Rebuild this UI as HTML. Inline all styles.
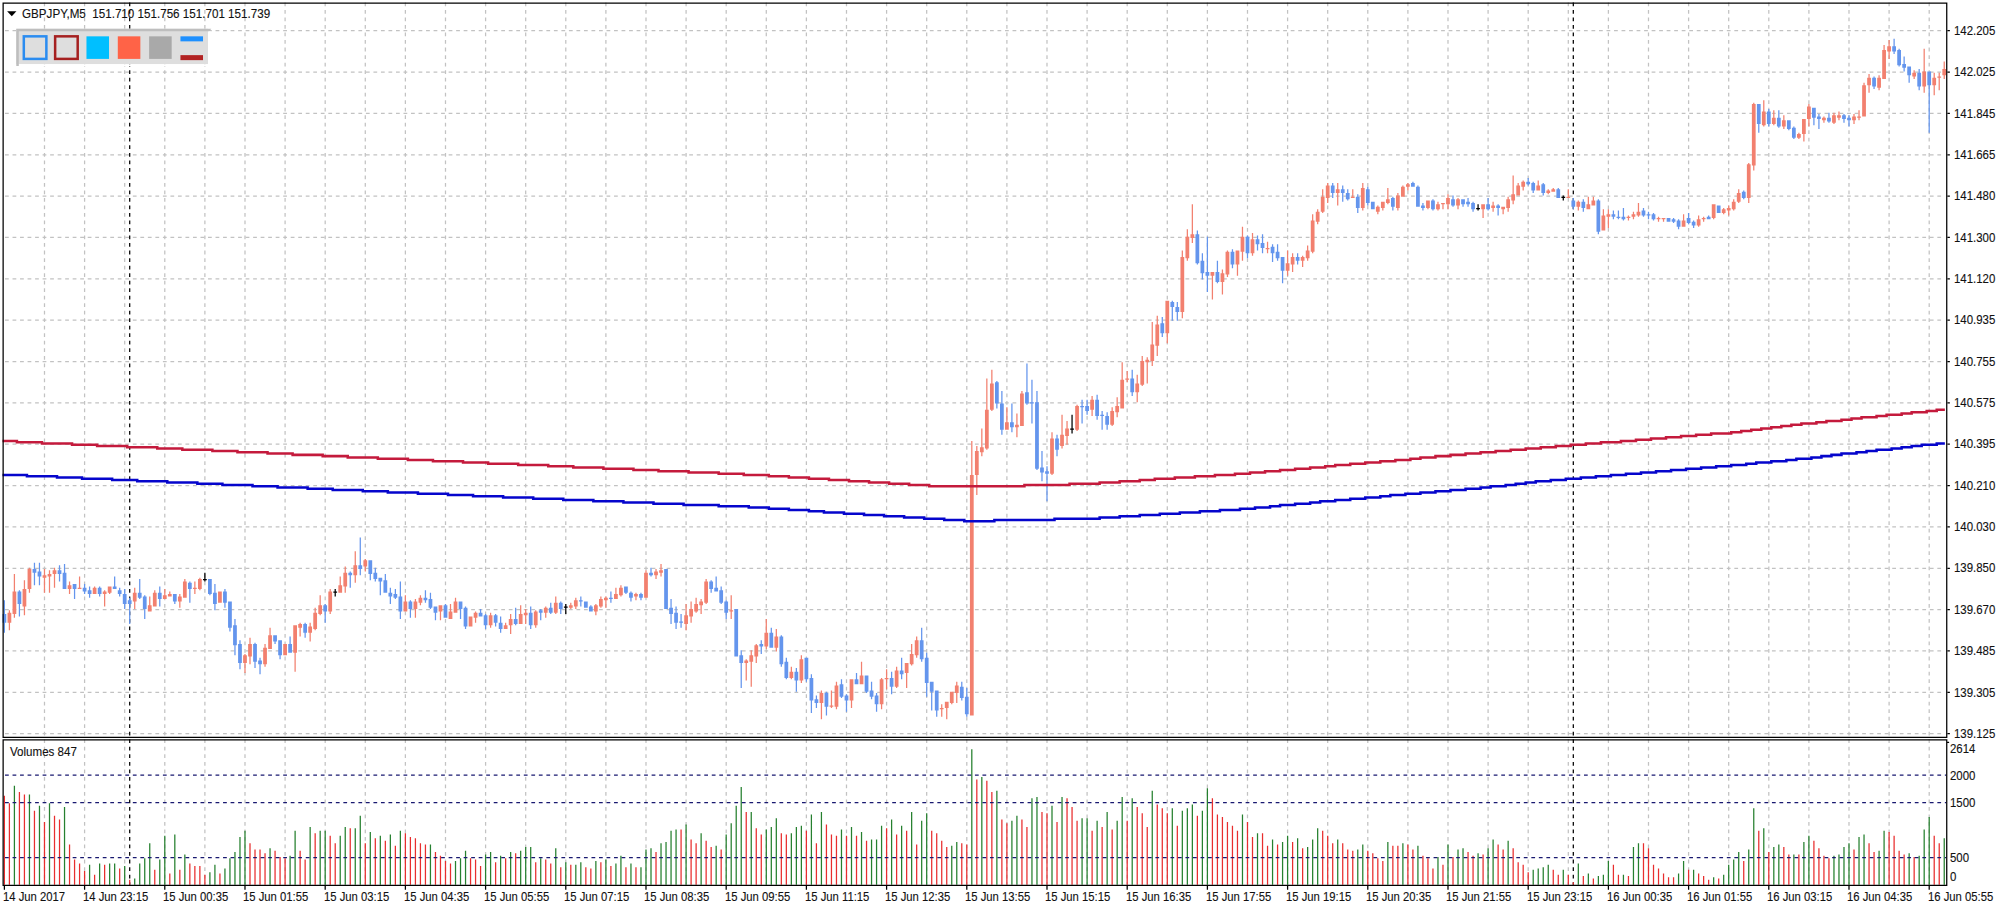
<!DOCTYPE html>
<html><head><meta charset="utf-8"><title>GBPJPY,M5</title>
<style>
html,body{margin:0;padding:0;background:#fff;}
body{width:2000px;height:911px;overflow:hidden;position:relative;font-family:"Liberation Sans",sans-serif;}
#chart{position:absolute;left:0;top:0;display:block}
.t{position:absolute;white-space:pre;font-size:12.3px;line-height:normal;color:#111;transform-origin:0 0;-webkit-text-stroke:0.12px #111;}
</style></head><body>
<svg id="chart" width="2000" height="911" viewBox="0 0 1596 727" preserveAspectRatio="none">
<rect width="1596" height="727" fill="#fff"/>
<path d="M35.5 2V588M35.5 590V706M67.5 2V588M67.5 590V706M99.5 2V588M99.5 590V706M131.5 2V588M131.5 590V706M163.5 2V588M163.5 590V706M195.5 2V588M195.5 590V706M227.5 2V588M227.5 590V706M259.5 2V588M259.5 590V706M291.5 2V588M291.5 590V706M323.5 2V588M323.5 590V706M355.5 2V588M355.5 590V706M387.5 2V588M387.5 590V706M419.5 2V588M419.5 590V706M451.5 2V588M451.5 590V706M483.5 2V588M483.5 590V706M515.5 2V588M515.5 590V706M547.5 2V588M547.5 590V706M579.5 2V588M579.5 590V706M611.5 2V588M611.5 590V706M643.5 2V588M643.5 590V706M675.5 2V588M675.5 590V706M707.5 2V588M707.5 590V706M739.5 2V588M739.5 590V706M771.5 2V588M771.5 590V706M803.5 2V588M803.5 590V706M835.5 2V588M835.5 590V706M867.5 2V588M867.5 590V706M899.5 2V588M899.5 590V706M931.5 2V588M931.5 590V706M963.5 2V588M963.5 590V706M995.5 2V588M995.5 590V706M1027.5 2V588M1027.5 590V706M1059.5 2V588M1059.5 590V706M1091.5 2V588M1091.5 590V706M1123.5 2V588M1123.5 590V706M1155.5 2V588M1155.5 590V706M1187.5 2V588M1187.5 590V706M1219.5 2V588M1219.5 590V706M1251.5 2V588M1251.5 590V706M1283.5 2V588M1283.5 590V706M1315.5 2V588M1315.5 590V706M1347.5 2V588M1347.5 590V706M1379.5 2V588M1379.5 590V706M1411.5 2V588M1411.5 590V706M1443.5 2V588M1443.5 590V706M1475.5 2V588M1475.5 590V706M1507.5 2V588M1507.5 590V706M1539.5 2V588M1539.5 590V706" stroke="#c2c2c2" stroke-width="1" stroke-dasharray="3 3" fill="none"/>
<path d="M4 24.5H1551M4 57.5H1551M4 90.5H1551M4 123.5H1551M4 156.5H1551M4 189.5H1551M4 222.5H1551M4 255.5H1551M4 288.5H1551M4 321.5H1551M4 354.5H1551M4 387.5H1551M4 420.5H1551M4 453.5H1551M4 486.5H1551M4 519.5H1551M4 552.5H1551M4 585.5H1551" stroke="#c2c2c2" stroke-width="1" stroke-dasharray="3 3" fill="none"/>
<path d="M103.5 2V588M103.5 590V706M1255.5 2V588M1255.5 590V706" stroke="#000" stroke-width="1" stroke-dasharray="3 3" fill="none"/>
<path d="M11.5 627V706M23.5 634V706M31.5 643V706M39.5 641V706M51.5 644V706M71.5 690V706M79.5 689V706M87.5 689V706M91.5 689V706M99.5 691V706M107.5 701V706M111.5 689V706M115.5 685V706M119.5 673V706M127.5 686V706M131.5 667V706M139.5 666V706M147.5 682V706M167.5 696V706M171.5 690V706M179.5 693V706M183.5 685V706M187.5 680V706M191.5 668V706M195.5 663V706M215.5 677V706M231.5 683V706M235.5 663V706M247.5 660V706M255.5 663V706M259.5 663V706M271.5 667V706M275.5 660V706M283.5 661V706M287.5 651V706M295.5 664V706M303.5 667V706M311.5 666V706M319.5 663V706M343.5 674V706M363.5 687V706M367.5 685V706M371.5 679V706M387.5 682V706M391.5 680V706M399.5 683V706M407.5 680V706M415.5 679V706M419.5 676V706M423.5 676V706M431.5 685V706M443.5 677V706M451.5 688V706M459.5 690V706M463.5 688V706M475.5 687V706M483.5 686V706M491.5 689V706M495.5 683V706M503.5 689V706M511.5 692V706M515.5 678V706M519.5 677V706M527.5 673V706M531.5 672V706M535.5 663V706M539.5 662V706M547.5 658V706M559.5 665V706M571.5 675V706M579.5 666V706M583.5 657V706M587.5 643V706M591.5 628V706M599.5 648V706M611.5 662V706M615.5 660V706M619.5 653V706M631.5 665V706M635.5 660V706M639.5 659V706M647.5 650V706M655.5 648V706M671.5 662V706M679.5 660V706M687.5 664V706M695.5 670V706M699.5 670V706M703.5 659V706M711.5 654V706M719.5 659V706M727.5 648V706M735.5 655V706M739.5 649V706M759.5 675V706M763.5 672V706M775.5 598V706M783.5 620V706M795.5 631V706M807.5 655V706M811.5 651V706M823.5 637V706M827.5 636V706M839.5 643V706M847.5 636V706M863.5 653V706M867.5 653V706M875.5 655V706M883.5 648V706M891.5 655V706M895.5 636V706M903.5 637V706M919.5 631V706M935.5 645V706M943.5 647V706M947.5 645V706M951.5 642V706M959.5 647V706M963.5 629V706M991.5 650V706M1003.5 665V706M1015.5 670V706M1023.5 672V706M1027.5 667V706M1035.5 669V706M1043.5 676V706M1047.5 670V706M1051.5 661V706M1067.5 670V706M1083.5 678V706M1087.5 674V706M1107.5 672V706M1119.5 673V706M1131.5 675V706M1147.5 684V706M1155.5 674V706M1163.5 678V706M1167.5 677V706M1179.5 681V706M1187.5 677V706M1191.5 670V706M1203.5 671V706M1223.5 694V706M1227.5 693V706M1231.5 692V706M1235.5 690V706M1247.5 694V706M1259.5 689V706M1267.5 697V706M1275.5 699V706M1279.5 698V706M1283.5 687V706M1295.5 698V706M1303.5 676V706M1307.5 673V706M1339.5 697V706M1343.5 687V706M1351.5 694V706M1367.5 700V706M1375.5 698V706M1379.5 690V706M1383.5 686V706M1387.5 680V706M1395.5 678V706M1399.5 645V706M1407.5 661V706M1415.5 676V706M1419.5 674V706M1431.5 682V706M1439.5 672V706M1443.5 667V706M1463.5 683V706M1467.5 682V706M1471.5 676V706M1475.5 673V706M1483.5 668V706M1487.5 666V706M1499.5 679V706M1503.5 663V706M1523.5 681V706M1531.5 683V706M1535.5 662V706M1539.5 652V706M1551.5 669V706" stroke="#26802f" stroke-width="1" fill="none"/>
<path d="M3.5 635V706M7.5 641V706M15.5 632V706M19.5 634V706M27.5 647V706M35.5 656V706M43.5 651V706M47.5 654V706M55.5 674V706M59.5 686V706M63.5 689V706M67.5 695V706M75.5 698V706M83.5 690V706M95.5 693V706M103.5 702V706M123.5 694V706M135.5 697V706M143.5 694V706M151.5 689V706M155.5 691V706M159.5 691V706M163.5 698V706M175.5 697V706M199.5 673V706M203.5 678V706M207.5 678V706M211.5 681V706M219.5 679V706M223.5 684V706M227.5 685V706M239.5 679V706M243.5 686V706M251.5 665V706M263.5 667V706M267.5 673V706M279.5 661V706M291.5 673V706M299.5 669V706M307.5 671V706M315.5 675V706M323.5 665V706M327.5 668V706M331.5 669V706M335.5 673V706M339.5 674V706M347.5 680V706M351.5 683V706M355.5 687V706M359.5 689V706M375.5 685V706M379.5 686V706M383.5 691V706M395.5 688V706M403.5 685V706M411.5 681V706M427.5 688V706M435.5 686V706M439.5 689V706M447.5 692V706M455.5 690V706M467.5 692V706M471.5 693V706M479.5 688V706M487.5 691V706M499.5 692V706M507.5 692V706M523.5 680V706M543.5 662V706M551.5 670V706M555.5 673V706M563.5 671V706M567.5 676V706M575.5 678V706M595.5 648V706M603.5 661V706M607.5 666V706M623.5 665V706M627.5 666V706M643.5 663V706M651.5 673V706M659.5 658V706M663.5 666V706M667.5 667V706M675.5 667V706M683.5 667V706M691.5 671V706M707.5 661V706M715.5 666V706M723.5 663V706M731.5 674V706M743.5 663V706M747.5 665V706M751.5 671V706M755.5 676V706M767.5 673V706M771.5 674V706M779.5 622V706M787.5 623V706M791.5 632V706M799.5 654V706M803.5 657V706M815.5 654V706M819.5 660V706M831.5 648V706M835.5 649V706M843.5 656V706M851.5 637V706M855.5 644V706M859.5 655V706M871.5 663V706M879.5 660V706M887.5 662V706M899.5 655V706M907.5 644V706M911.5 649V706M915.5 660V706M923.5 642V706M927.5 645V706M931.5 649V706M939.5 659V706M955.5 651V706M967.5 637V706M971.5 650V706M975.5 652V706M979.5 656V706M983.5 659V706M987.5 663V706M995.5 656V706M999.5 668V706M1007.5 665V706M1011.5 675V706M1019.5 674V706M1031.5 672V706M1039.5 677V706M1055.5 663V706M1059.5 667V706M1063.5 673V706M1071.5 673V706M1075.5 678V706M1079.5 679V706M1091.5 679V706M1095.5 681V706M1099.5 685V706M1103.5 687V706M1111.5 675V706M1115.5 675V706M1123.5 674V706M1127.5 678V706M1135.5 683V706M1139.5 685V706M1143.5 693V706M1151.5 690V706M1159.5 684V706M1171.5 680V706M1175.5 683V706M1183.5 682V706M1195.5 674V706M1199.5 678V706M1207.5 677V706M1211.5 688V706M1215.5 690V706M1219.5 696V706M1239.5 694V706M1243.5 698V706M1251.5 698V706M1255.5 704V706M1263.5 699V706M1271.5 701V706M1287.5 690V706M1291.5 698V706M1299.5 699V706M1311.5 673V706M1315.5 677V706M1319.5 690V706M1323.5 693V706M1327.5 697V706M1331.5 700V706M1335.5 700V706M1347.5 694V706M1355.5 697V706M1359.5 699V706M1363.5 702V706M1371.5 701V706M1391.5 687V706M1403.5 663V706M1411.5 680V706M1423.5 676V706M1427.5 682V706M1435.5 682V706M1447.5 671V706M1451.5 677V706M1455.5 683V706M1459.5 685V706M1479.5 678V706M1491.5 673V706M1495.5 680V706M1507.5 664V706M1511.5 667V706M1515.5 679V706M1519.5 682V706M1527.5 684V706M1543.5 667V706M1547.5 673V706" stroke="#e82e2e" stroke-width="1" fill="none"/>
<path d="M4 618.5H1553M4 640.5H1553M4 684.5H1553" stroke="#191970" stroke-width="1" stroke-dasharray="3 3" fill="none"/>
<path d="M7 487h1V503h-1zM6 489h3V497h-3zM11 458h1V493h-1zM10 472h3V490h-3zM19 463h1V491h-1zM18 470h3V484h-3zM23 453h1V473h-1zM22 454h3V470h-3zM35 454h1V473h-1zM34 459h3V461h-3zM39 455h1V473h-1zM38 458h3V460h-3zM43 453h1V469h-1zM42 455h3V458h-3zM55 464h1V474h-1zM54 467h3V470h-3zM63 460h1V470h-1zM62 469h3V470h-3zM75 468h1V474h-1zM74 469h3V474h-3zM83 471h1V484h-1zM82 472h3V474h-3zM87 468h1V474h-1zM86 468h3V473h-3zM107 469h1V486h-1zM106 473h3V480h-3zM119 476h1V488h-1zM118 483h3V488h-3zM123 471h1V484h-1zM122 473h3V484h-3zM131 470h1V478h-1zM130 475h3V478h-3zM135 472h1V476h-1zM134 474h3V476h-3zM143 474h1V485h-1zM142 476h3V480h-3zM147 462h1V477h-1zM146 464h3V477h-3zM155 464h1V474h-1zM154 469h3V470h-3zM159 461h1V471h-1zM158 462h3V470h-3zM175 472h1V481h-1zM174 472h3V481h-3zM195 522h1V537h-1zM194 523h3V529h-3zM199 509h1V530h-1zM198 514h3V524h-3zM211 514h1V532h-1zM210 517h3V530h-3zM215 501h1V518h-1zM214 507h3V518h-3zM227 514h1V523h-1zM226 514h3V523h-3zM235 499h1V536h-1zM234 499h3V521h-3zM239 497h1V508h-1zM238 498h3V501h-3zM247 497h1V512h-1zM246 500h3V505h-3zM251 485h1V503h-1zM250 489h3V502h-3zM255 475h1V491h-1zM254 483h3V490h-3zM263 470h1V490h-1zM262 472h3V488h-3zM271 460h1V473h-1zM270 467h3V473h-3zM275 452h1V473h-1zM274 457h3V468h-3zM283 440h1V465h-1zM282 451h3V459h-3zM291 446h1V456h-1zM290 447h3V452h-3zM323 475h1V488h-1zM322 480h3V488h-3zM331 478h1V493h-1zM330 480h3V486h-3zM335 475h1V483h-1zM334 477h3V481h-3zM351 483h1V495h-1zM350 483h3V488h-3zM359 482h1V494h-1zM358 488h3V494h-3zM363 477h1V489h-1zM362 480h3V489h-3zM375 492h1V500h-1zM374 492h3V500h-3zM379 488h1V497h-1zM378 489h3V493h-3zM391 489h1V501h-1zM390 491h3V499h-3zM403 497h1V502h-1zM402 499h3V502h-3zM407 490h1V506h-1zM406 494h3V499h-3zM415 483h1V498h-1zM414 490h3V498h-3zM419 486h1V498h-1zM418 489h3V491h-3zM427 487h1V501h-1zM426 488h3V499h-3zM435 484h1V493h-1zM434 485h3V489h-3zM443 476h1V490h-1zM442 481h3V489h-3zM455 481h1V486h-1zM454 483h3V485h-3zM459 477h1V486h-1zM458 479h3V484h-3zM475 482h1V491h-1zM474 483h3V488h-3zM479 476h1V485h-1zM478 478h3V484h-3zM483 476h1V485h-1zM482 477h3V479h-3zM491 469h1V478h-1zM490 474h3V478h-3zM495 467h1V476h-1zM494 469h3V475h-3zM507 473h1V479h-1zM506 474h3V476h-3zM515 455h1V477h-1zM514 457h3V477h-3zM523 454h1V462h-1zM522 456h3V459h-3zM527 450h1V460h-1zM526 455h3V457h-3zM547 482h1V503h-1zM546 491h3V498h-3zM551 480h1V497h-1zM550 486h3V492h-3zM555 477h1V489h-1zM554 482h3V488h-3zM559 478h1V490h-1zM558 480h3V483h-3zM563 462h1V482h-1zM562 464h3V481h-3zM583 475h1V494h-1zM582 487h3V488h-3zM595 526h1V543h-1zM594 527h3V529h-3zM599 519h1V548h-1zM598 523h3V528h-3zM603 514h1V529h-1zM602 515h3V524h-3zM611 494h1V518h-1zM610 505h3V516h-3zM619 502h1V520h-1zM618 508h3V517h-3zM631 532h1V542h-1zM630 536h3V541h-3zM639 523h1V545h-1zM638 526h3V543h-3zM655 551h1V574h-1zM654 553h3V561h-3zM663 551h1V565h-1zM662 563h3V564h-3zM667 544h1V566h-1zM666 547h3V564h-3zM679 542h1V565h-1zM678 542h3V559h-3zM687 528h1V546h-1zM686 539h3V546h-3zM703 541h1V566h-1zM702 542h3V562h-3zM707 534h1V550h-1zM706 541h3V542h-3zM715 532h1V549h-1zM714 535h3V548h-3zM723 529h1V549h-1zM722 529h3V537h-3zM727 514h1V531h-1zM726 522h3V530h-3zM731 508h1V525h-1zM730 511h3V523h-3zM751 562h1V572h-1zM750 565h3V566h-3zM755 560h1V574h-1zM754 560h3V565h-3zM759 552h1V562h-1zM758 552h3V561h-3zM763 544h1V561h-1zM762 547h3V553h-3zM775 352h1V571h-1zM774 379h3V571h-3zM779 356h1V395h-1zM778 360h3V379h-3zM783 342h1V364h-1zM782 357h3V361h-3zM787 302h1V359h-1zM786 327h3V358h-3zM791 295h1V328h-1zM790 306h3V327h-3zM803 325h1V343h-1zM802 337h3V343h-3zM811 330h1V349h-1zM810 339h3V341h-3zM815 312h1V340h-1zM814 314h3V340h-3zM839 345h1V379h-1zM838 350h3V378h-3zM847 331h1V358h-1zM846 347h3V356h-3zM851 336h1V355h-1zM850 342h3V348h-3zM859 323h1V344h-1zM858 324h3V343h-3zM871 316h1V332h-1zM870 319h3V327h-3zM887 325h1V340h-1zM886 328h3V339h-3zM891 317h1V333h-1zM890 324h3V329h-3zM895 289h1V326h-1zM894 303h3V326h-3zM899 296h1V305h-1zM898 302h3V303h-3zM907 299h1V321h-1zM906 306h3V313h-3zM911 284h1V308h-1zM910 288h3V307h-3zM915 285h1V306h-1zM914 287h3V289h-3zM919 257h1V292h-1zM918 275h3V288h-3zM923 252h1V284h-1zM922 259h3V276h-3zM931 240h1V274h-1zM930 240h3V266h-3zM943 200h1V254h-1zM942 205h3V249h-3zM947 183h1V208h-1zM946 189h3V206h-3zM951 163h1V194h-1zM950 187h3V190h-3zM967 217h1V239h-1zM966 217h3V220h-3zM975 215h1V235h-1zM974 218h3V225h-3zM979 200h1V221h-1zM978 201h3V219h-3zM987 200h1V220h-1zM986 200h3V211h-3zM991 181h1V208h-1zM990 189h3V201h-3zM999 186h1V204h-1zM998 191h3V202h-3zM1011 193h1V202h-1zM1010 198h3V199h-3zM1027 200h1V220h-1zM1026 210h3V216h-3zM1031 202h1V217h-1zM1030 205h3V211h-3zM1039 204h1V213h-1zM1038 205h3V208h-3zM1043 196h1V208h-1zM1042 200h3V206h-3zM1047 171h1V202h-1zM1046 176h3V201h-3zM1051 167h1V179h-1zM1050 169h3V177h-3zM1055 151h1V170h-1zM1054 157h3V169h-3zM1059 146h1V162h-1zM1058 148h3V158h-3zM1067 146h1V164h-1zM1066 151h3V154h-3zM1079 151h1V158h-1zM1078 157h3V158h-3zM1087 146h1V168h-1zM1086 150h3V166h-3zM1099 164h1V171h-1zM1098 165h3V169h-3zM1103 161h1V168h-1zM1102 161h3V166h-3zM1107 150h1V163h-1zM1106 159h3V162h-3zM1115 154h1V168h-1zM1114 156h3V166h-3zM1119 148h1V157h-1zM1118 149h3V157h-3zM1123 146h1V152h-1zM1122 147h3V149h-3zM1139 160h1V167h-1zM1138 160h3V166h-3zM1147 161h1V168h-1zM1146 163h3V167h-3zM1151 162h1V167h-1zM1150 162h3V163h-3zM1155 155h1V167h-1zM1154 158h3V163h-3zM1163 158h1V167h-1zM1162 159h3V164h-3zM1183 163h1V174h-1zM1182 163h3V167h-3zM1191 161h1V169h-1zM1190 164h3V166h-3zM1199 165h1V171h-1zM1198 165h3V167h-3zM1203 157h1V169h-1zM1202 159h3V166h-3zM1207 140h1V163h-1zM1206 155h3V160h-3zM1211 146h1V156h-1zM1210 148h3V156h-3zM1215 144h1V152h-1zM1214 145h3V149h-3zM1227 144h1V152h-1zM1226 148h3V152h-3zM1235 151h1V155h-1zM1234 152h3V154h-3zM1239 150h1V153h-1zM1238 151h3V153h-3zM1251 151h1V158h-1zM1250 157h3V158h-3zM1259 160h1V168h-1zM1258 161h3V165h-3zM1267 157h1V167h-1zM1266 163h3V167h-3zM1271 157h1V164h-1zM1270 160h3V164h-3zM1279 167h1V184h-1zM1278 172h3V184h-3zM1283 167h1V182h-1zM1282 171h3V173h-3zM1299 172h1V176h-1zM1298 173h3V174h-3zM1303 169h1V175h-1zM1302 171h3V173h-3zM1307 162h1V173h-1zM1306 169h3V172h-3zM1323 173h1V177h-1zM1322 174h3V175h-3zM1327 174h1V177h-1zM1326 174h3V175h-3zM1343 171h1V181h-1zM1342 176h3V181h-3zM1355 172h1V181h-1zM1354 175h3V180h-3zM1359 173h1V177h-1zM1358 174h3V175h-3zM1367 163h1V175h-1zM1366 163h3V174h-3zM1375 166h1V171h-1zM1374 167h3V170h-3zM1379 164h1V172h-1zM1378 166h3V168h-3zM1383 159h1V168h-1zM1382 161h3V167h-3zM1387 151h1V162h-1zM1386 154h3V161h-3zM1395 130h1V162h-1zM1394 131h3V158h-3zM1399 82h1V136h-1zM1398 83h3V132h-3zM1407 80h1V101h-1zM1406 89h3V100h-3zM1415 88h1V100h-1zM1414 94h3V99h-3zM1423 92h1V103h-1zM1422 96h3V101h-3zM1435 106h1V111h-1zM1434 107h3V110h-3zM1439 95h1V113h-1zM1438 95h3V107h-3zM1443 83h1V101h-1zM1442 85h3V95h-3zM1455 93h1V98h-1zM1454 94h3V96h-3zM1463 90h1V99h-1zM1462 92h3V98h-3zM1467 89h1V96h-1zM1466 92h3V94h-3zM1479 91h1V99h-1zM1478 93h3V96h-3zM1483 88h1V96h-1zM1482 93h3V94h-3zM1487 66h1V93h-1zM1486 68h3V93h-3zM1491 59h1V74h-1zM1490 62h3V68h-3zM1499 60h1V72h-1zM1498 62h3V70h-3zM1503 36h1V63h-1zM1502 40h3V63h-3zM1507 32h1V47h-1zM1506 37h3V41h-3zM1527 56h1V63h-1zM1526 58h3V61h-3zM1535 39h1V74h-1zM1534 57h3V69h-3zM1543 58h1V76h-1zM1542 62h3V68h-3zM1547 58h1V72h-1zM1546 61h3V62h-3zM1551 49h1V63h-1zM1550 55h3V60h-3z" fill="#f2806f"/>
<path d="M3 479h1V505h-1zM2 490h3V497h-3zM15 471h1V492h-1zM14 472h3V482h-3zM27 449h1V467h-1zM26 454h3V457h-3zM31 449h1V467h-1zM30 456h3V460h-3zM47 451h1V464h-1zM46 455h3V458h-3zM51 450h1V470h-1zM50 457h3V470h-3zM59 466h1V478h-1zM58 466h3V470h-3zM67 466h1V474h-1zM66 469h3V472h-3zM71 468h1V477h-1zM70 471h3V474h-3zM79 468h1V476h-1zM78 469h3V474h-3zM91 460h1V470h-1zM90 468h3V470h-3zM95 469h1V476h-1zM94 471h3V474h-3zM99 470h1V486h-1zM98 474h3V482h-3zM103 477h1V498h-1zM102 479h3V482h-3zM111 462h1V478h-1zM110 473h3V477h-3zM115 475h1V494h-1zM114 476h3V486h-3zM127 468h1V484h-1zM126 473h3V478h-3zM139 474h1V482h-1zM138 474h3V480h-3zM151 464h1V481h-1zM150 465h3V470h-3zM167 462h1V475h-1zM166 462h3V474h-3zM171 466h1V487h-1zM170 473h3V482h-3zM179 470h1V485h-1zM178 472h3V481h-3zM183 480h1V504h-1zM182 480h3V501h-3zM187 494h1V523h-1zM186 499h3V515h-3zM191 511h1V534h-1zM190 514h3V529h-3zM203 513h1V533h-1zM202 514h3V528h-3zM207 525h1V538h-1zM206 527h3V530h-3zM219 507h1V514h-1zM218 507h3V512h-3zM223 511h1V526h-1zM222 511h3V523h-3zM231 508h1V521h-1zM230 514h3V521h-3zM243 497h1V509h-1zM242 498h3V505h-3zM259 482h1V497h-1zM258 483h3V488h-3zM279 456h1V469h-1zM278 457h3V459h-3zM287 429h1V459h-1zM286 451h3V454h-3zM295 447h1V463h-1zM294 447h3V458h-3zM299 453h1V464h-1zM298 457h3V462h-3zM303 461h1V475h-1zM302 461h3V464h-3zM307 458h1V473h-1zM306 463h3V473h-3zM311 469h1V482h-1zM310 473h3V476h-3zM315 470h1V478h-1zM314 474h3V477h-3zM319 464h1V494h-1zM318 476h3V488h-3zM327 479h1V493h-1zM326 480h3V486h-3zM339 471h1V481h-1zM338 477h3V479h-3zM343 473h1V486h-1zM342 478h3V485h-3zM347 484h1V495h-1zM346 484h3V489h-3zM355 482h1V493h-1zM354 483h3V493h-3zM367 480h1V494h-1zM366 480h3V486h-3zM371 484h1V502h-1zM370 485h3V500h-3zM383 486h1V492h-1zM382 489h3V492h-3zM387 490h1V502h-1zM386 491h3V499h-3zM395 490h1V500h-1zM394 491h3V497h-3zM399 492h1V505h-1zM398 497h3V502h-3zM411 485h1V499h-1zM410 494h3V498h-3zM423 484h1V502h-1zM422 489h3V499h-3zM431 486h1V495h-1zM430 487h3V489h-3zM439 481h1V490h-1zM438 485h3V489h-3zM447 480h1V490h-1zM446 481h3V486h-3zM463 476h1V484h-1zM462 479h3V480h-3zM467 480h1V485h-1zM466 480h3V485h-3zM471 483h1V488h-1zM470 484h3V488h-3zM487 472h1V481h-1zM486 477h3V478h-3zM499 468h1V474h-1zM498 468h3V473h-3zM503 472h1V480h-1zM502 473h3V477h-3zM511 473h1V479h-1zM510 474h3V477h-3zM519 453h1V460h-1zM518 457h3V459h-3zM531 454h1V486h-1zM530 454h3V486h-3zM535 478h1V498h-1zM534 485h3V490h-3zM539 484h1V502h-1zM538 489h3V497h-3zM543 490h1V501h-1zM542 496h3V497h-3zM567 463h1V473h-1zM566 464h3V470h-3zM571 460h1V472h-1zM570 469h3V472h-3zM575 468h1V482h-1zM574 471h3V481h-3zM579 479h1V494h-1zM578 480h3V489h-3zM587 486h1V524h-1zM586 486h3V524h-3zM591 519h1V549h-1zM590 523h3V529h-3zM607 511h1V522h-1zM606 514h3V516h-3zM615 501h1V517h-1zM614 505h3V517h-3zM623 507h1V532h-1zM622 508h3V530h-3zM627 525h1V542h-1zM626 528h3V541h-3zM635 533h1V552h-1zM634 536h3V543h-3zM643 525h1V544h-1zM642 525h3V542h-3zM647 538h1V569h-1zM646 541h3V559h-3zM651 555h1V565h-1zM650 558h3V561h-3zM659 552h1V571h-1zM658 553h3V564h-3zM671 542h1V557h-1zM670 546h3V556h-3zM675 554h1V568h-1zM674 555h3V559h-3zM683 537h1V546h-1zM682 542h3V546h-3zM691 539h1V553h-1zM690 539h3V552h-3zM695 544h1V558h-1zM694 551h3V556h-3zM699 553h1V568h-1zM698 555h3V562h-3zM711 536h1V554h-1zM710 541h3V548h-3zM719 525h1V542h-1zM718 535h3V538h-3zM735 501h1V528h-1zM734 511h3V526h-3zM739 521h1V556h-1zM738 525h3V545h-3zM743 544h1V567h-1zM742 544h3V552h-3zM747 551h1V572h-1zM746 551h3V567h-3zM767 544h1V559h-1zM766 548h3V557h-3zM771 549h1V572h-1zM770 556h3V570h-3zM795 304h1V326h-1zM794 305h3V322h-3zM799 312h1V347h-1zM798 322h3V343h-3zM807 322h1V345h-1zM806 337h3V341h-3zM819 290h1V323h-1zM818 313h3V322h-3zM823 303h1V338h-1zM822 321h3V322h-3zM827 312h1V375h-1zM826 321h3V374h-3zM831 360h1V384h-1zM830 373h3V377h-3zM835 372h1V400h-1zM834 376h3V378h-3zM843 347h1V364h-1zM842 350h3V359h-3zM863 319h1V338h-1zM862 324h3V325h-3zM867 319h1V331h-1zM866 324h3V328h-3zM875 315h1V335h-1zM874 319h3V332h-3zM879 328h1V343h-1zM878 331h3V332h-3zM883 329h1V343h-1zM882 332h3V339h-3zM903 295h1V316h-1zM902 302h3V313h-3zM927 253h1V269h-1zM926 258h3V266h-3zM935 240h1V256h-1zM934 241h3V245h-3zM939 241h1V256h-1zM938 245h3V249h-3zM955 184h1V211h-1zM954 187h3V210h-3zM959 202h1V223h-1zM958 208h3V218h-3zM963 189h1V233h-1zM962 217h3V220h-3zM971 208h1V226h-1zM970 217h3V225h-3zM983 199h1V214h-1zM982 201h3V211h-3zM995 188h1V206h-1zM994 189h3V202h-3zM1003 188h1V200h-1zM1002 191h3V195h-3zM1007 187h1V202h-1zM1006 194h3V198h-3zM1015 195h1V209h-1zM1014 197h3V202h-3zM1019 195h1V208h-1zM1018 201h3V206h-3zM1023 205h1V226h-1zM1022 205h3V216h-3zM1035 202h1V211h-1zM1034 205h3V208h-3zM1063 146h1V158h-1zM1062 148h3V154h-3zM1071 148h1V161h-1zM1070 151h3V154h-3zM1075 151h1V160h-1zM1074 154h3V159h-3zM1083 155h1V170h-1zM1082 157h3V166h-3zM1091 149h1V164h-1zM1090 151h3V162h-3zM1095 161h1V167h-1zM1094 161h3V167h-3zM1111 157h1V168h-1zM1110 158h3V165h-3zM1127 145h1V149h-1zM1126 146h3V149h-3zM1131 148h1V165h-1zM1130 149h3V165h-3zM1135 162h1V168h-1zM1134 164h3V166h-3zM1143 159h1V168h-1zM1142 160h3V167h-3zM1159 156h1V165h-1zM1158 159h3V164h-3zM1167 159h1V165h-1zM1166 159h3V163h-3zM1171 158h1V165h-1zM1170 161h3V163h-3zM1175 161h1V169h-1zM1174 162h3V167h-3zM1187 158h1V168h-1zM1186 163h3V167h-3zM1195 163h1V172h-1zM1194 164h3V166h-3zM1219 142h1V148h-1zM1218 145h3V147h-3zM1223 145h1V154h-1zM1222 146h3V152h-3zM1231 146h1V156h-1zM1230 147h3V154h-3zM1243 150h1V158h-1zM1242 151h3V158h-3zM1255 158h1V167h-1zM1254 160h3V165h-3zM1263 159h1V169h-1zM1262 161h3V166h-3zM1275 159h1V187h-1zM1274 160h3V185h-3zM1287 168h1V175h-1zM1286 171h3V173h-3zM1291 168h1V175h-1zM1290 173h3V174h-3zM1295 166h1V176h-1zM1294 173h3V175h-3zM1311 166h1V173h-1zM1310 168h3V172h-3zM1315 169h1V175h-1zM1314 171h3V172h-3zM1319 170h1V176h-1zM1318 171h3V175h-3zM1331 174h1V177h-1zM1330 174h3V177h-3zM1335 174h1V178h-1zM1334 175h3V177h-3zM1339 175h1V183h-1zM1338 176h3V181h-3zM1347 170h1V179h-1zM1346 174h3V178h-3zM1351 176h1V182h-1zM1350 177h3V180h-3zM1363 172h1V175h-1zM1362 173h3V175h-3zM1371 164h1V170h-1zM1370 164h3V170h-3zM1391 152h1V159h-1zM1390 153h3V158h-3zM1403 83h1V106h-1zM1402 83h3V99h-3zM1411 87h1V101h-1zM1410 89h3V99h-3zM1419 88h1V102h-1zM1418 94h3V101h-3zM1427 96h1V104h-1zM1426 96h3V103h-3zM1431 101h1V111h-1zM1430 102h3V110h-3zM1447 86h1V100h-1zM1446 86h3V94h-3zM1451 91h1V103h-1zM1450 93h3V95h-3zM1459 90h1V98h-1zM1458 94h3V97h-3zM1471 91h1V98h-1zM1470 92h3V95h-3zM1475 92h1V101h-1zM1474 94h3V96h-3zM1495 61h1V71h-1zM1494 62h3V69h-3zM1511 31h1V43h-1zM1510 37h3V41h-3zM1515 39h1V53h-1zM1514 40h3V52h-3zM1519 45h1V57h-1zM1518 51h3V54h-3zM1523 53h1V66h-1zM1522 53h3V60h-3zM1531 55h1V72h-1zM1530 58h3V69h-3zM1539 57h1V106h-1zM1538 57h3V68h-3z" fill="#6495ed"/>
<path d="M163 457h1V464h-1zM162 462h3v1h-3zM267 470h1V476h-1zM266 472h3v1h-3zM451 482h1V490h-1zM450 484h3v1h-3zM855 331h1V346h-1zM854 342h3v1h-3zM1179 163h1V168h-1zM1178 166h3v1h-3zM1247 156h1V160h-1zM1246 157h3v1h-3z" fill="#000"/>
<path d="M2.0 352H13.5V353H33.5V354H57.5V355H77.5V356H101.5V357H125.5V358H145.5V359H169.5V360H189.5V361H213.5V362H233.5V363H257.5V364H277.5V365H301.5V366H325.5V367H345.5V368H369.5V369H389.5V370H413.5V371H437.5V372H457.5V373H481.5V374H505.5V375H525.5V376H549.5V377H573.5V378H593.5V379H613.5V380H629.5V381H645.5V382H661.5V383H677.5V384H693.5V385H709.5V386H725.5V387H741.5V388H817.5V387H853.5V386H877.5V385H893.5V384H909.5V383H921.5V382H937.5V381H953.5V380H969.5V379H985.5V378H997.5V377H1009.5V376H1021.5V375H1033.5V374H1045.5V373H1057.5V372H1065.5V371H1077.5V370H1089.5V369H1101.5V368H1113.5V367H1125.5V366H1133.5V365H1145.5V364H1157.5V363H1169.5V362H1181.5V361H1193.5V360H1205.5V359H1217.5V358H1229.5V357H1241.5V356H1253.5V355H1265.5V354H1277.5V353H1293.5V352H1305.5V351H1317.5V350H1329.5V349H1341.5V348H1353.5V347H1365.5V346H1381.5V345H1389.5V344H1397.5V343H1405.5V342H1413.5V341H1421.5V340H1429.5V339H1437.5V338H1449.5V337H1457.5V336H1469.5V335H1477.5V334H1485.5V333H1497.5V332H1505.5V331H1517.5V330H1525.5V329H1537.5V328H1545.5V327H1552.0" stroke="#c41a3c" stroke-width="2" fill="none" stroke-linejoin="miter"/>
<path d="M2.0 379H21.5V380H45.5V381H65.5V382H89.5V383H109.5V384H133.5V385H157.5V386H177.5V387H201.5V388H221.5V389H245.5V390H265.5V391H289.5V392H309.5V393H333.5V394H357.5V395H377.5V396H401.5V397H425.5V398H449.5V399H473.5V400H497.5V401H521.5V402H545.5V403H573.5V404H597.5V405H613.5V406H629.5V407H645.5V408H657.5V409H673.5V410H689.5V411H705.5V412H721.5V413H737.5V414H753.5V415H769.5V416H793.5V415H841.5V414H877.5V413H893.5V412H909.5V411H925.5V410H941.5V409H957.5V408H973.5V407H989.5V406H1001.5V405H1013.5V404H1021.5V403H1033.5V402H1045.5V401H1053.5V400H1065.5V399H1077.5V398H1089.5V397H1101.5V396H1109.5V395H1121.5V394H1133.5V393H1145.5V392H1157.5V391H1169.5V390H1181.5V389H1189.5V388H1201.5V387H1209.5V386H1217.5V385H1225.5V384H1237.5V383H1249.5V382H1261.5V381H1273.5V380H1285.5V379H1297.5V378H1309.5V377H1321.5V376H1333.5V375H1345.5V374H1357.5V373H1369.5V372H1381.5V371H1393.5V370H1401.5V369H1413.5V368H1425.5V367H1433.5V366H1445.5V365H1453.5V364H1461.5V363H1469.5V362H1481.5V361H1489.5V360H1497.5V359H1509.5V358H1517.5V357H1525.5V356H1533.5V355H1545.5V354H1552.0" stroke="#0505cc" stroke-width="2" fill="none" stroke-linejoin="miter"/>
<path d="M2.5 2V589M2.5 590V707M2 2.5H1554M1553.5 2V589M1553.5 590V707M2 588.5H1554M2 590.5H1554M2 706.5H1554M1554 592.5h1.4" stroke="#000" stroke-width="1" fill="none"/>
<path d="M1554 24.5h2M1554 57.5h2M1554 90.5h2M1554 123.5h2M1554 156.5h2M1554 189.5h2M1554 222.5h2M1554 255.5h2M1554 288.5h2M1554 321.5h2M1554 354.5h2M1554 387.5h2M1554 420.5h2M1554 453.5h2M1554 486.5h2M1554 519.5h2M1554 552.5h2M1554 585.5h2" stroke="#000" stroke-width="1" fill="none"/>
<path d="M3.5 707v3M67.5 707v3M131.5 707v3M195.5 707v3M259.5 707v3M323.5 707v3M387.5 707v3M451.5 707v3M515.5 707v3M579.5 707v3M643.5 707v3M707.5 707v3M771.5 707v3M835.5 707v3M899.5 707v3M963.5 707v3M1027.5 707v3M1091.5 707v3M1155.5 707v3M1219.5 707v3M1283.5 707v3M1347.5 707v3M1411.5 707v3M1475.5 707v3M1539.5 707v3" stroke="#000" stroke-width="1" fill="none"/>
<rect x="13" y="23" width="153" height="28.2" fill="#dedede"/>
<path d="M15 52.6H168V25H166V51.2H15z" fill="#fff"/>
<path d="M13 52.6V23H168.6L167 25H15V52.6z" fill="#bebebe"/>
<rect x="19" y="29" width="18" height="18" fill="#dedede" stroke="#2b8cf0" stroke-width="2"/>
<rect x="44" y="29" width="18" height="18" fill="#dedede" stroke="#a52020" stroke-width="2"/>
<rect x="69" y="29" width="18" height="18" fill="#00bfff"/>
<rect x="94" y="29" width="18" height="18" fill="#ff6347"/>
<rect x="119" y="29" width="18" height="18" fill="#a9a9a9"/>
<rect x="144" y="29" width="18" height="4" fill="#1e90ff"/>
<rect x="144" y="44" width="18" height="4" fill="#b22222"/>
<path d="M5.7 8.9h7.4l-3.7 4.1z" fill="#000"/>
</svg>
<span class="t " style="left:1953.90px;top:23.87px;transform:scaleX(0.93)">142.205</span>
<span class="t " style="left:1953.90px;top:65.22px;transform:scaleX(0.93)">142.025</span>
<span class="t " style="left:1953.90px;top:106.58px;transform:scaleX(0.93)">141.845</span>
<span class="t " style="left:1953.90px;top:147.93px;transform:scaleX(0.93)">141.665</span>
<span class="t " style="left:1953.90px;top:189.28px;transform:scaleX(0.93)">141.480</span>
<span class="t " style="left:1953.90px;top:230.64px;transform:scaleX(0.93)">141.300</span>
<span class="t " style="left:1953.90px;top:271.99px;transform:scaleX(0.93)">141.120</span>
<span class="t " style="left:1953.90px;top:313.34px;transform:scaleX(0.93)">140.935</span>
<span class="t " style="left:1953.90px;top:354.70px;transform:scaleX(0.93)">140.755</span>
<span class="t " style="left:1953.90px;top:396.05px;transform:scaleX(0.93)">140.575</span>
<span class="t " style="left:1953.90px;top:437.40px;transform:scaleX(0.93)">140.395</span>
<span class="t " style="left:1953.90px;top:478.76px;transform:scaleX(0.93)">140.210</span>
<span class="t " style="left:1953.90px;top:520.11px;transform:scaleX(0.93)">140.030</span>
<span class="t " style="left:1953.90px;top:561.46px;transform:scaleX(0.93)">139.850</span>
<span class="t " style="left:1953.90px;top:602.82px;transform:scaleX(0.93)">139.670</span>
<span class="t " style="left:1953.90px;top:644.17px;transform:scaleX(0.93)">139.485</span>
<span class="t " style="left:1953.90px;top:685.52px;transform:scaleX(0.93)">139.305</span>
<span class="t " style="left:1953.90px;top:726.88px;transform:scaleX(0.93)">139.125</span>
<span class="t " style="left:2.89px;top:889.97px;transform:scaleX(0.917)">14 Jun 2017</span>
<span class="t " style="left:83.09px;top:889.97px;transform:scaleX(0.917)">14 Jun 23:15</span>
<span class="t " style="left:163.29px;top:889.97px;transform:scaleX(0.917)">15 Jun 00:35</span>
<span class="t " style="left:243.49px;top:889.97px;transform:scaleX(0.917)">15 Jun 01:55</span>
<span class="t " style="left:323.69px;top:889.97px;transform:scaleX(0.917)">15 Jun 03:15</span>
<span class="t " style="left:403.89px;top:889.97px;transform:scaleX(0.917)">15 Jun 04:35</span>
<span class="t " style="left:484.09px;top:889.97px;transform:scaleX(0.917)">15 Jun 05:55</span>
<span class="t " style="left:564.29px;top:889.97px;transform:scaleX(0.917)">15 Jun 07:15</span>
<span class="t " style="left:644.49px;top:889.97px;transform:scaleX(0.917)">15 Jun 08:35</span>
<span class="t " style="left:724.69px;top:889.97px;transform:scaleX(0.917)">15 Jun 09:55</span>
<span class="t " style="left:804.89px;top:889.97px;transform:scaleX(0.917)">15 Jun 11:15</span>
<span class="t " style="left:885.09px;top:889.97px;transform:scaleX(0.917)">15 Jun 12:35</span>
<span class="t " style="left:965.29px;top:889.97px;transform:scaleX(0.917)">15 Jun 13:55</span>
<span class="t " style="left:1045.49px;top:889.97px;transform:scaleX(0.917)">15 Jun 15:15</span>
<span class="t " style="left:1125.69px;top:889.97px;transform:scaleX(0.917)">15 Jun 16:35</span>
<span class="t " style="left:1205.89px;top:889.97px;transform:scaleX(0.917)">15 Jun 17:55</span>
<span class="t " style="left:1286.09px;top:889.97px;transform:scaleX(0.917)">15 Jun 19:15</span>
<span class="t " style="left:1366.29px;top:889.97px;transform:scaleX(0.917)">15 Jun 20:35</span>
<span class="t " style="left:1446.49px;top:889.97px;transform:scaleX(0.917)">15 Jun 21:55</span>
<span class="t " style="left:1526.69px;top:889.97px;transform:scaleX(0.917)">15 Jun 23:15</span>
<span class="t " style="left:1606.89px;top:889.97px;transform:scaleX(0.917)">16 Jun 00:35</span>
<span class="t " style="left:1687.09px;top:889.97px;transform:scaleX(0.917)">16 Jun 01:55</span>
<span class="t " style="left:1767.29px;top:889.97px;transform:scaleX(0.917)">16 Jun 03:15</span>
<span class="t " style="left:1847.49px;top:889.97px;transform:scaleX(0.917)">16 Jun 04:35</span>
<span class="t " style="left:1927.69px;top:889.97px;transform:scaleX(0.917)">16 Jun 05:55</span>
<span class="t " style="left:1950.30px;top:742.47px;transform:scaleX(0.93)">2614</span>
<span class="t " style="left:1950.30px;top:768.67px;transform:scaleX(0.93)">2000</span>
<span class="t " style="left:1950.30px;top:795.57px;transform:scaleX(0.93)">1500</span>
<span class="t " style="left:1950.30px;top:851.17px;transform:scaleX(0.93)">500</span>
<span class="t " style="left:1950.30px;top:869.97px;transform:scaleX(0.93)">0</span>
<span class="t " style="left:10.00px;top:744.67px;transform:scaleX(0.941)">Volumes 847</span>
<span class="t " style="left:22.40px;top:6.62px;transform:scaleX(0.946)">GBPJPY,M5&nbsp; 151.710 151.756 151.701 151.739</span>
</body></html>
